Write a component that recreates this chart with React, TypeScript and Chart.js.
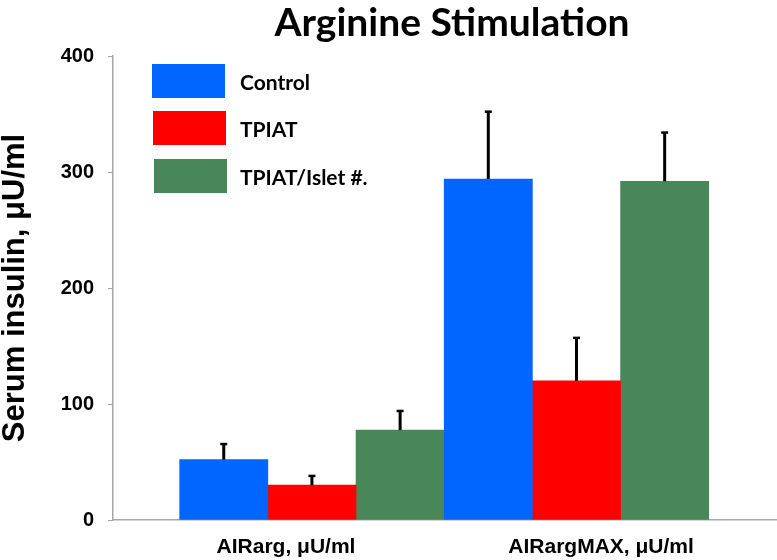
import React, { useEffect, useRef } from "react";
import { Chart, registerables } from "chart.js";

Chart.register(...registerables);

// ---- data ----
const categories = ["AIRarg, μU/ml", "AIRargMAX, μU/ml"];
const categoryPositions = [0, 1];
const labelPositions = [-0.098, 1.093];
const seriesNames = ["Control", "TPIAT", "TPIAT/Islet #."];
const controlValues = [52, 294];
const tpiatValues = [30, 120];
const isletValues = [77.5, 292];
const controlErrors = [13.5, 58];
const tpiatErrors = [8, 37];
const isletErrors = [16.5, 42];
const yTicks = [0, 100, 200, 300, 400];
const seriesColors = ["#0066FF", "#FF0000", "#488858"];

const titleText = "Arginine Stimulation";
const yTitle = "Serum insulin, μU/ml";

const allValues = [controlValues, tpiatValues, isletValues];
const allErrors = [controlErrors, tpiatErrors, isletErrors];

const errorBarPlugin = {
  id: "errorBars",
  afterDatasetsDraw(chart: any) {
    const ctx = chart.ctx;
    const yScale = chart.scales.y;
    ctx.save();
    ctx.strokeStyle = "#000";
    chart.data.datasets.forEach((ds: any, di: number) => {
      const meta = chart.getDatasetMeta(di);
      meta.data.forEach((el: any, i: number) => {
        const v = allValues[di][i];
        const e = allErrors[di][i];
        const yTop = yScale.getPixelForValue(v + e);
        const yBar = yScale.getPixelForValue(v);
        ctx.lineWidth = 3;
        ctx.beginPath();
        ctx.moveTo(el.x, yBar);
        ctx.lineTo(el.x, yTop);
        ctx.stroke();
        ctx.lineWidth = 2.5;
        ctx.beginPath();
        ctx.moveTo(el.x - 3.5, yTop);
        ctx.lineTo(el.x + 3.5, yTop);
        ctx.stroke();
      });
    });
    ctx.restore();
  },
};

const legendTitlePlugin = {
  id: "legendTitle",
  afterDraw(chart: any) {
    const ctx = chart.ctx;
    const area = chart.chartArea;
    ctx.save();
    // title
    ctx.fillStyle = "#000";
    ctx.font = "bold 39px Lato";
    ctx.textAlign = "center";
    ctx.textBaseline = "alphabetic";
    ctx.fillText(titleText, 452, 36);
    // legend
    const boxLeft = area.left + 39;
    const tops = [64, 111, 159];
    ctx.font = "bold 21px Lato";
    ctx.textAlign = "left";
    ctx.textBaseline = "middle";
    chart.data.datasets.forEach((ds: any, i: number) => {
      const top = tops[i];
      ctx.fillStyle = ds.backgroundColor;
      ctx.fillRect(boxLeft + i, top, 73, 34);
      ctx.fillStyle = "#000";
      ctx.fillText(ds.label, 240, top + 19);
    });
    ctx.restore();
  },
};

export default function App() {
  const canvasRef = useRef<HTMLCanvasElement | null>(null);

  useEffect(() => {
    const canvas = canvasRef.current;
    if (!canvas) return;
    const datasets = allValues.map((vals, di) => ({
      label: seriesNames[di],
      data: vals.map((v, i) => ({ x: categoryPositions[i], y: v })),
      backgroundColor: seriesColors[di],
      borderWidth: 0,
      categoryPercentage: 1,
      barPercentage: 1,
    }));
    const chart = new Chart(canvas, {
      type: "bar",
      data: { datasets },
      plugins: [errorBarPlugin, legendTitlePlugin],
      options: {
        animation: false,
        responsive: false,
        layout: { padding: { top: 56, left: 0, right: 0, bottom: 0 } },
        plugins: {
          legend: { display: false },
          title: { display: false },
          tooltip: { enabled: false },
        },
        scales: {
          x: {
            type: "linear",
            min: -0.752,
            max: 1.758,
            offset: false,
            afterFit: (scale: any) => {
              scale.height = 40;
            },
            grid: { display: false, drawTicks: false },
            border: { display: true, color: "#a6a6a6", width: 1.5 },
            afterBuildTicks: (scale: any) => {
              scale.ticks = labelPositions.map((v) => ({ value: v }));
            },
            ticks: {
              autoSkip: false,
              maxRotation: 0,
              padding: 15,
              color: "#000",
              font: { family: "Liberation Sans", weight: "bold", size: 21 },
              callback: (_v: any, i: number) => categories[i],
            },
          },
          y: {
            min: 0,
            max: 400,
            afterFit: (scale: any) => {
              scale.width = 113;
            },
            afterBuildTicks: (scale: any) => {
              scale.ticks = yTicks.map((v) => ({ value: v }));
            },
            grid: {
              drawOnChartArea: false,
              drawTicks: true,
              tickLength: 5,
              color: "#a6a6a6",
            },
            border: { display: true, color: "#a6a6a6", width: 1.5 },
            ticks: {
              padding: 14,
              color: "#000",
              font: { family: "Liberation Sans", weight: "bold", size: 20 },
            },
            title: {
              display: true,
              text: yTitle,
              color: "#000",
              padding: { top: 0, bottom: 0 },
              font: { family: "Liberation Sans", weight: "bold", size: 31, lineHeight: 1 },
            },
          },
        },
      } as any,
    });
    return () => chart.destroy();
  }, []);

  return (
    <div style={{ position: "absolute", left: 0, top: 0, width: 777, height: 560, background: "#fff" }}>
      <canvas ref={canvasRef} width={777} height={560} style={{ display: "block" }} />
    </div>
  );
}
